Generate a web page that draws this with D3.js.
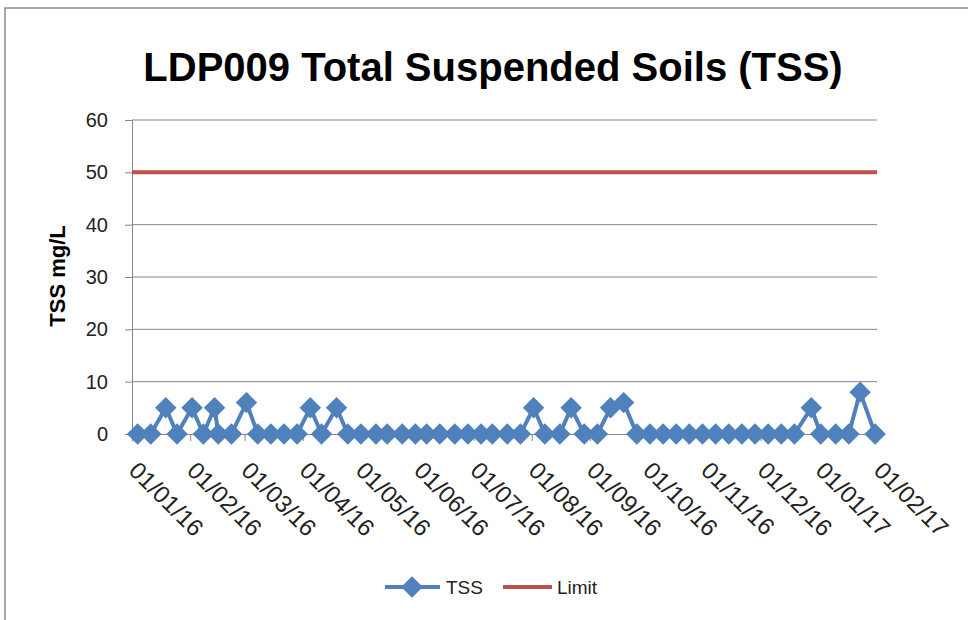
<!DOCTYPE html>
<html>
<head>
<meta charset="utf-8">
<script src="https://cdn.jsdelivr.net/npm/d3@7"></script>
<style>
  body { margin: 0; background: #fff; }
  svg { display: block; font-family: "Liberation Sans", Arial, sans-serif; }
</style>
</head>
<body>
<svg width="968" height="620"></svg>
<script>
// sample dates and TSS values
const sampleDates = [
  "2016-01-04","2016-01-11","2016-01-19","2016-01-25","2016-02-02","2016-02-08",
  "2016-02-14","2016-02-16","2016-02-23","2016-03-02","2016-03-08","2016-03-15",
  "2016-03-22","2016-03-29","2016-04-05","2016-04-11","2016-04-19","2016-04-25",
  "2016-05-02","2016-05-10","2016-05-16","2016-05-24","2016-05-31","2016-06-06",
  "2016-06-13","2016-06-21","2016-06-28","2016-07-05","2016-07-11","2016-07-19",
  "2016-07-26","2016-08-02","2016-08-08","2016-08-16","2016-08-22","2016-08-29",
  "2016-09-05","2016-09-12","2016-09-19","2016-09-26","2016-10-03","2016-10-10",
  "2016-10-17","2016-10-24","2016-10-31","2016-11-07","2016-11-14","2016-11-21",
  "2016-11-28","2016-12-05","2016-12-12","2016-12-19","2016-12-28","2017-01-02",
  "2017-01-10","2017-01-17","2017-01-23","2017-01-31"
];
const tssValues = [
  0, 0, 5, 0, 5, 0,
  5, 0, 0, 6, 0, 0,
  0, 0, 5, 0, 5, 0,
  0, 0, 0, 0, 0, 0,
  0, 0, 0, 0, 0, 0,
  0, 5, 0, 0, 5, 0,
  0, 5, 6, 0, 0, 0,
  0, 0, 0, 0, 0, 0,
  0, 0, 0, 0, 5, 0,
  0, 0, 8, 0
];
const limitDates = ["2016-01-01", "2017-02-01"];
const limitValues = [50, 50];

const yTicks = [0, 10, 20, 30, 40, 50, 60];
const xTickDates = [
  "2016-01-01","2016-02-01","2016-03-01","2016-04-01","2016-05-01","2016-06-01",
  "2016-07-01","2016-08-01","2016-09-01","2016-10-01","2016-11-01","2016-12-01",
  "2017-01-01","2017-02-01"
];

const titleText = "LDP009 Total Suspended Soils (TSS)";
const yLabel = "TSS mg/L";
const seriesNames = ["TSS", "Limit"];

const parse = d3.timeParse("%Y-%m-%d");
const fmt = d3.timeFormat("%d/%m/%y");

const tss = sampleDates.map((d, i) => ({ date: parse(d), value: tssValues[i] }));
const limit = limitDates.map((d, i) => ({ date: parse(d), value: limitValues[i] }));

const blue = "#4F81BD";
const red = "#C0504D";
const grid = "#868686";

const svg = d3.select("svg");

// outer chart border (top and left visible)
svg.append("path")
  .attr("d", "M5,1000 L5,8 L1000,8")
  .attr("fill", "none")
  .attr("stroke", "#8a8a8a")
  .attr("stroke-width", 1.5);

const x = d3.scaleTime()
  .domain([parse(xTickDates[0]), parse(xTickDates[xTickDates.length - 1])])
  .range([132, 877]);
const y = d3.scaleLinear().domain([0, 60]).range([434, 120]);

// title
svg.append("text")
  .attr("x", 493)
  .attr("y", 81)
  .attr("text-anchor", "middle")
  .attr("font-size", 40)
  .attr("font-weight", "bold")
  .attr("fill", "#000")
  .text(titleText);

// gridlines
svg.append("g")
  .selectAll("line")
  .data(yTicks.filter(v => v > 0))
  .enter()
  .append("line")
  .attr("x1", x.range()[0])
  .attr("x2", x.range()[1])
  .attr("y1", d => y(d))
  .attr("y2", d => y(d))
  .attr("stroke", grid)
  .attr("stroke-width", 1);

// y axis
const yAxis = svg.append("g")
  .attr("transform", `translate(${x.range()[0]},0)`)
  .call(d3.axisLeft(y).tickValues(yTicks).tickSize(7).tickPadding(17));
yAxis.select(".domain").attr("stroke", grid);
yAxis.selectAll(".tick line").attr("stroke", grid);
yAxis.selectAll(".tick text")
  .attr("font-size", 20)
  .attr("font-family", "Liberation Sans, Arial, sans-serif")
  .attr("fill", "#222");

svg.append("text")
  .attr("transform", "translate(65,276) rotate(-90)")
  .attr("text-anchor", "middle")
  .attr("font-size", 22)
  .attr("font-weight", "bold")
  .attr("fill", "#000")
  .text(yLabel);

// x axis
const xAxis = svg.append("g")
  .attr("transform", `translate(0,${y(0)})`)
  .call(d3.axisBottom(x)
    .tickValues(xTickDates.map(parse))
    .tickFormat(fmt)
    .tickSize(7));
xAxis.select(".domain").attr("stroke", grid);
xAxis.selectAll(".tick line").attr("stroke", grid);
xAxis.selectAll(".tick text")
  .attr("font-size", 24)
  .attr("font-family", "Liberation Sans, Arial, sans-serif")
  .attr("fill", "#222")
  .attr("text-anchor", "start")
  .attr("y", 0)
  .attr("dy", 0)
  .attr("transform", "translate(-5,38) rotate(45)");

// lines
const line = d3.line().x(d => x(d.date)).y(d => y(d.value));

svg.append("path")
  .datum(limit)
  .attr("fill", "none")
  .attr("stroke", red)
  .attr("stroke-width", 4)
  .attr("d", line);

svg.append("path")
  .datum(tss)
  .attr("fill", "none")
  .attr("stroke", blue)
  .attr("stroke-width", 4)
  .attr("stroke-linejoin", "round")
  .attr("d", line);

const diamond = d3.symbol().type(d3.symbolSquare).size(230);

svg.append("g")
  .selectAll("path")
  .data(tss)
  .enter()
  .append("path")
  .attr("d", diamond)
  .attr("fill", blue)
  .attr("transform", d => `translate(${x(d.date)},${y(d.value)}) rotate(45)`);

// legend
const legend = svg.append("g").attr("transform", "translate(0,587)");
legend.append("line")
  .attr("x1", 385).attr("x2", 440)
  .attr("stroke", blue).attr("stroke-width", 4);
legend.append("path")
  .attr("d", diamond)
  .attr("fill", blue)
  .attr("transform", "translate(412,0) rotate(45)");
legend.append("text")
  .attr("x", 446).attr("y", 7)
  .attr("font-size", 19)
  .attr("fill", "#222")
  .text(seriesNames[0]);
legend.append("line")
  .attr("x1", 503).attr("x2", 552)
  .attr("stroke", red).attr("stroke-width", 4);
legend.append("text")
  .attr("x", 557).attr("y", 7)
  .attr("font-size", 19)
  .attr("fill", "#222")
  .text(seriesNames[1]);
</script>
</body>
</html>
